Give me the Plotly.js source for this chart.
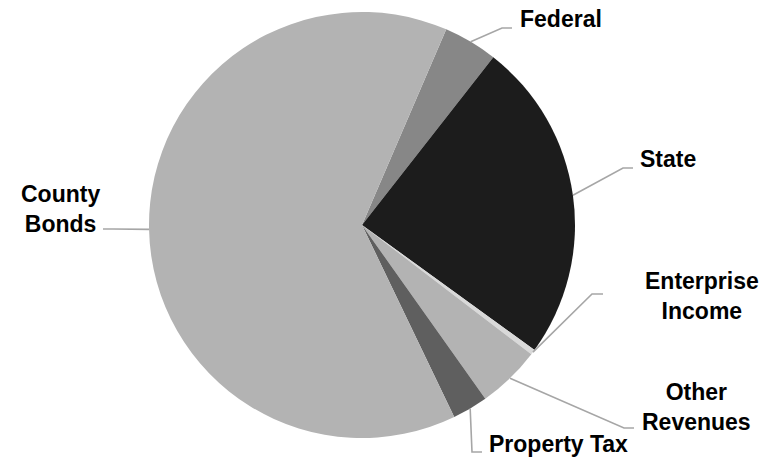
<!DOCTYPE html>
<html>
<head>
<meta charset="utf-8">
<script src="https://cdn.plot.ly/plotly-3.0.1.min.js"></script>
<style>html,body{margin:0;padding:0;background:#fff;}#chart{width:778px;height:458px;}</style>
</head>
<body>
<div id="chart"></div>
<script>
// ---- data ----
const categories = ["Federal", "State", "Enterprise Income", "Other Revenues", "Property Tax", "County Bonds"];
const labelText = ["Federal", "State", "Enterprise<br>Income", "Other<br>Revenues", "Property Tax", "County<br>Bonds"];
const shares = [4.1, 24.4, 0.4, 4.8, 2.7, 63.6];

// ---- style ----
const sliceColors = ["#878787", "#1c1c1c", "#d9d9d9", "#b3b3b3", "#5f5f5f", "#b3b3b3"];
const W = 778, H = 458;
const cx = 362, cy = 225, R = 213;
const rotationDeg = 23.3;
// label placement (pixels): elbow point, end of stub, label anchor
const labelPlace = [
  {elbow:[502,28],  end:[512,28],  lx:518, ly:19,  xa:"left",   align:"left"},
  {elbow:[623,168], end:[633,168], lx:638, ly:159, xa:"left",   align:"left"},
  {elbow:[592,294], end:[603,294], lx:702, ly:296, xa:"center", align:"center"},
  {elbow:[624,428], end:[634,428], lx:696, ly:407, xa:"center", align:"center"},
  {elbow:[472,452], end:[482,452], lx:487, ly:444, xa:"left",   align:"left"},
  {elbow:[113,229], end:[103,229], lx:102, ly:209, xa:"right",  align:"center"}
];

const px = x => x / W;
const py = y => 1 - y / H;

// leader lines from slice mid-angles computed from the data
const total = shares.reduce((a, b) => a + b, 0);
const shapes = [];
const annotations = [];
let acc = 0;
shares.forEach((v, i) => {
  const mid = (rotationDeg + (acc + v / 2) / total * 360) * Math.PI / 180;
  acc += v;
  const ex = cx + R * Math.sin(mid), ey = cy - R * Math.cos(mid);
  const p = labelPlace[i];
  shapes.push({
    type: "path", xref: "paper", yref: "paper",
    path: `M${px(ex)},${py(ey)} L${px(p.elbow[0])},${py(p.elbow[1])} L${px(p.end[0])},${py(p.end[1])}`,
    line: {color: "#a6a6a6", width: 1.6}
  });
  annotations.push({
    xref: "paper", yref: "paper", x: px(p.lx), y: py(p.ly),
    xanchor: p.xa, yanchor: "middle", align: p.align,
    text: labelText[i], showarrow: false,
    font: {family: "Liberation Sans, Arial, sans-serif", size: 23, color: "#000", weight: "bold"}
  });
});

const trace = {
  type: "pie",
  labels: categories,
  values: shares,
  sort: false,
  direction: "clockwise",
  rotation: rotationDeg,
  textinfo: "none",
  hoverinfo: "label+percent",
  marker: {colors: sliceColors, line: {width: 0}},
  domain: {x: [px(cx - R), px(cx + R)], y: [py(cy + R), py(cy - R)]},
  showlegend: false
};

const layout = {
  width: W, height: H,
  margin: {l: 0, r: 0, t: 0, b: 0},
  paper_bgcolor: "#fff",
  showlegend: false,
  shapes: shapes,
  annotations: annotations
};

Plotly.newPlot("chart", [trace], layout, {displayModeBar: false, staticPlot: true});
</script>
</body>
</html>
